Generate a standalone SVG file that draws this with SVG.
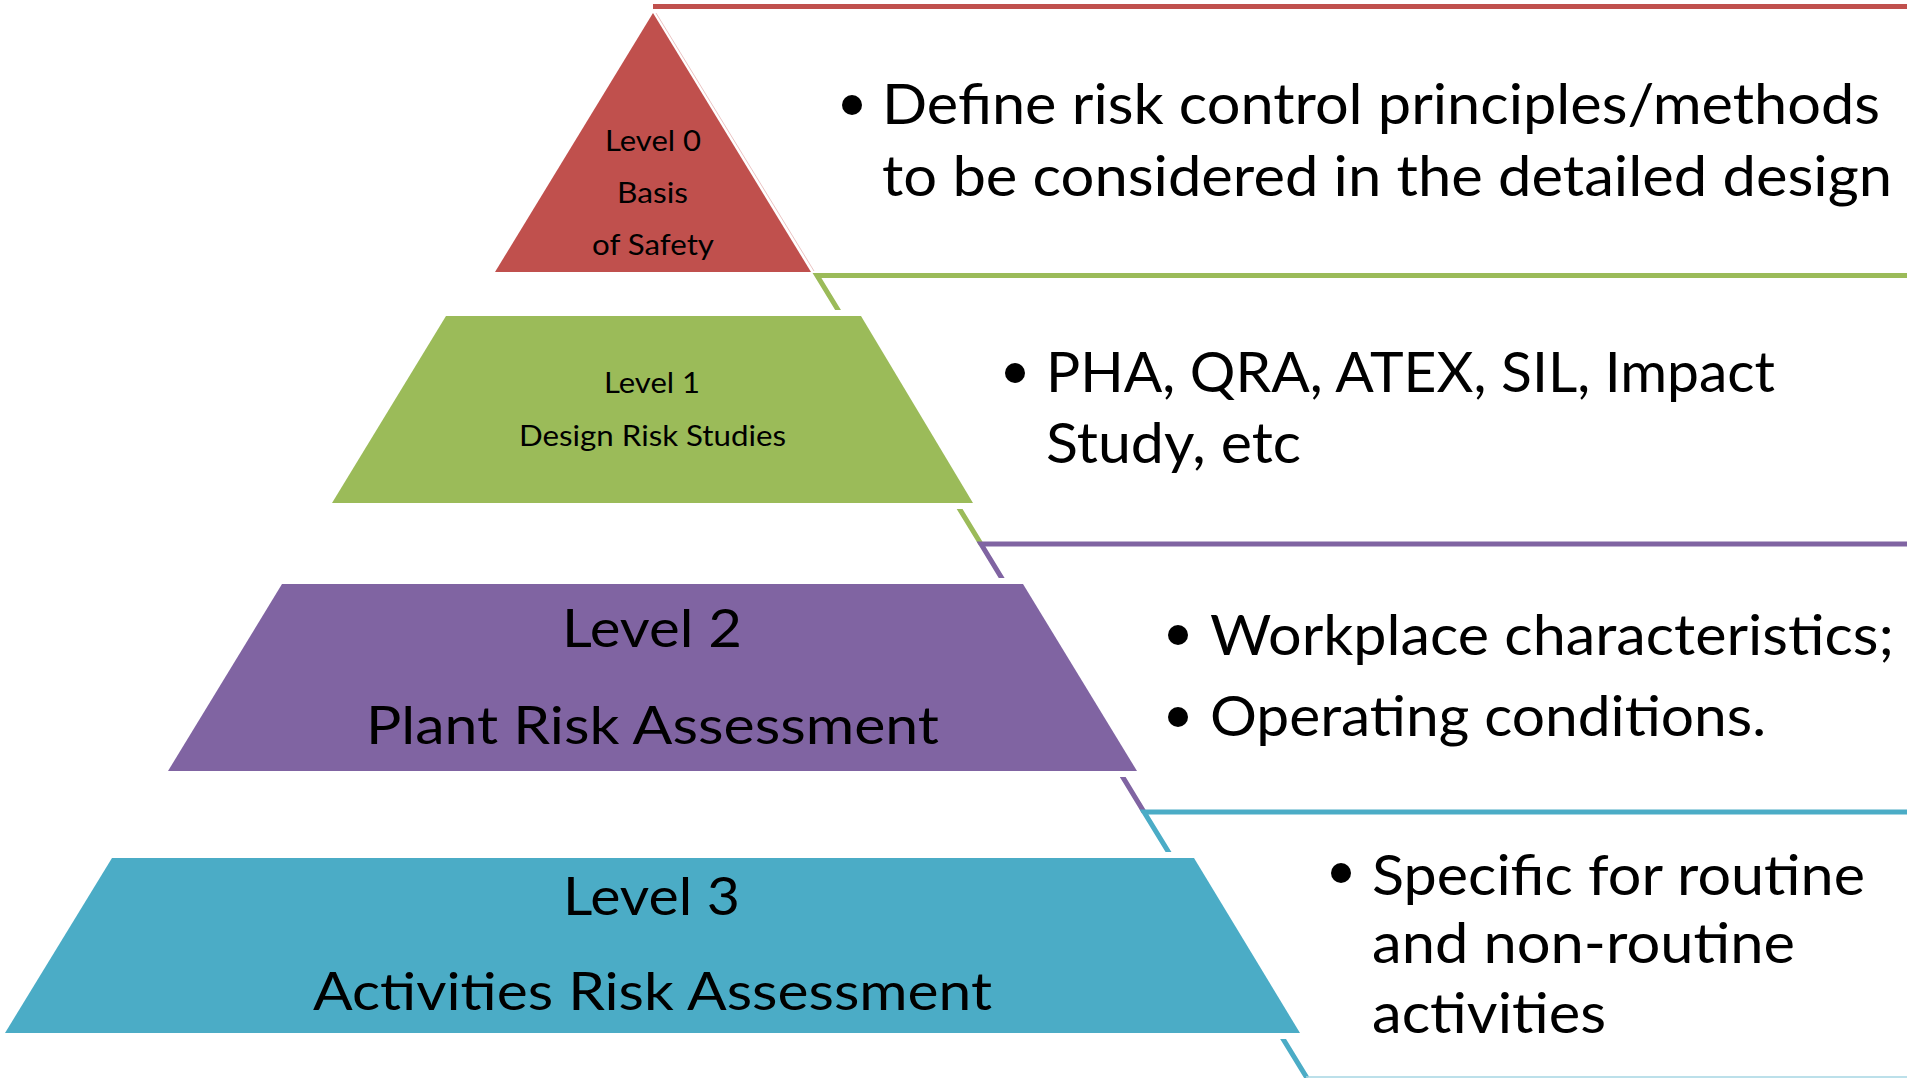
<svg xmlns="http://www.w3.org/2000/svg" width="1907" height="1078" viewBox="0 0 1907 1078">
  <style>
    .t { font-family: Lato, "Open Sans", "Liberation Sans", sans-serif; fill: #000; }
    .sm { font-size: 29px; }
    .md { font-size: 53px; }
    .lg { font-size: 56px; }
    .rule { fill: none; stroke-width: 5; stroke-linejoin: miter; }
    .dot { fill: #000; }
  </style>
  <defs>
    <!-- horizontal bands where the bracket lines stay visible (gaps around each tier) -->
    <clipPath id="tierGaps">
      <rect x="0" y="0" width="1907" height="310"/>
      <rect x="0" y="509" width="1907" height="69"/>
      <rect x="0" y="777" width="1907" height="75"/>
      <rect x="0" y="1039" width="1907" height="39"/>
    </clipPath>
  </defs>

  <rect width="1907" height="1078" fill="#ffffff"/>

  <!-- bracket lines linking each tier to its description -->
  <g id="connectors" clip-path="url(#tierGaps)">
    <path class="rule" d="M1907 6.5H653" stroke="#C0504D"/>
    <line x1="656" y1="13" x2="814" y2="271" stroke="#ebc4c3" stroke-width="1"/>
    <path class="rule" d="M1907 275.5H817L981 544" stroke="#9BBB59"/>
    <path class="rule" d="M1907 544H981L1144 812" stroke="#8064A2"/>
    <path class="rule" d="M1907 812H1144L1307 1078" stroke="#4BACC6"/>
    <line x1="1306" y1="1077" x2="1907" y2="1077" stroke="#a6d6e3" stroke-width="1.5"/>
  </g>

  <!-- Level 0 -->
  <g id="level0">
    <polygon points="653,13 811,272 495,272" fill="#C0504D"/>
    <text class="t sm" x="605" y="151" textLength="96" lengthAdjust="spacingAndGlyphs">Level 0</text>
    <text class="t sm" x="617" y="203" textLength="71" lengthAdjust="spacingAndGlyphs">Basis</text>
    <text class="t sm" x="592" y="255" textLength="122" lengthAdjust="spacingAndGlyphs">of Safety</text>
  </g>

  <!-- Level 1 -->
  <g id="level1">
    <polygon points="446,316 861,316 973,503 332,503" fill="#9BBB59"/>
    <text class="t sm" x="604" y="393" textLength="96" lengthAdjust="spacingAndGlyphs">Level 1</text>
    <text class="t sm" x="519" y="446" textLength="267" lengthAdjust="spacingAndGlyphs">Design Risk Studies</text>
  </g>

  <!-- Level 2 -->
  <g id="level2">
    <polygon points="282,584 1023,584 1137,771 168,771" fill="#8064A2"/>
    <text class="t md" x="562" y="647" textLength="180" lengthAdjust="spacingAndGlyphs">Level 2</text>
    <text class="t md" x="366" y="744" textLength="573" lengthAdjust="spacingAndGlyphs">Plant Risk Assessment</text>
  </g>

  <!-- Level 3 -->
  <g id="level3">
    <polygon points="112,858 1194,858 1300,1033 5,1033" fill="#4BACC6"/>
    <text class="t md" x="563" y="915" textLength="177" lengthAdjust="spacingAndGlyphs">Level 3</text>
    <text class="t md" x="313" y="1010" textLength="679" lengthAdjust="spacingAndGlyphs">Activities Risk Assessment</text>
  </g>

  <!-- descriptions -->
  <g id="desc0">
    <circle class="dot" cx="852" cy="105" r="10"/>
    <text class="t lg" x="882" y="124" textLength="998" lengthAdjust="spacingAndGlyphs">Define risk control principles/methods</text>
    <text class="t lg" x="882" y="196" textLength="1010" lengthAdjust="spacingAndGlyphs">to be considered in the detailed design</text>
  </g>

  <g id="desc1">
    <circle class="dot" cx="1015" cy="373" r="10"/>
    <text class="t lg" x="1046" y="392" textLength="729" lengthAdjust="spacingAndGlyphs">PHA, QRA, ATEX, SIL, Impact</text>
    <text class="t lg" x="1046" y="463" textLength="255" lengthAdjust="spacingAndGlyphs">Study, etc</text>
  </g>

  <g id="desc2">
    <circle class="dot" cx="1178" cy="635" r="10"/>
    <text class="t lg" x="1210" y="655" textLength="684" lengthAdjust="spacingAndGlyphs">Workplace characteristics;</text>
    <circle class="dot" cx="1178" cy="717" r="10"/>
    <text class="t lg" x="1210" y="736" textLength="556" lengthAdjust="spacingAndGlyphs">Operating conditions.</text>
  </g>

  <g id="desc3">
    <circle class="dot" cx="1341" cy="873" r="10"/>
    <text class="t lg" x="1372" y="895" textLength="493" lengthAdjust="spacingAndGlyphs">Specific for routine</text>
    <text class="t lg" x="1372" y="963" textLength="423" lengthAdjust="spacingAndGlyphs">and non-routine</text>
    <text class="t lg" x="1372" y="1033" textLength="234" lengthAdjust="spacingAndGlyphs">activities</text>
  </g>
</svg>
